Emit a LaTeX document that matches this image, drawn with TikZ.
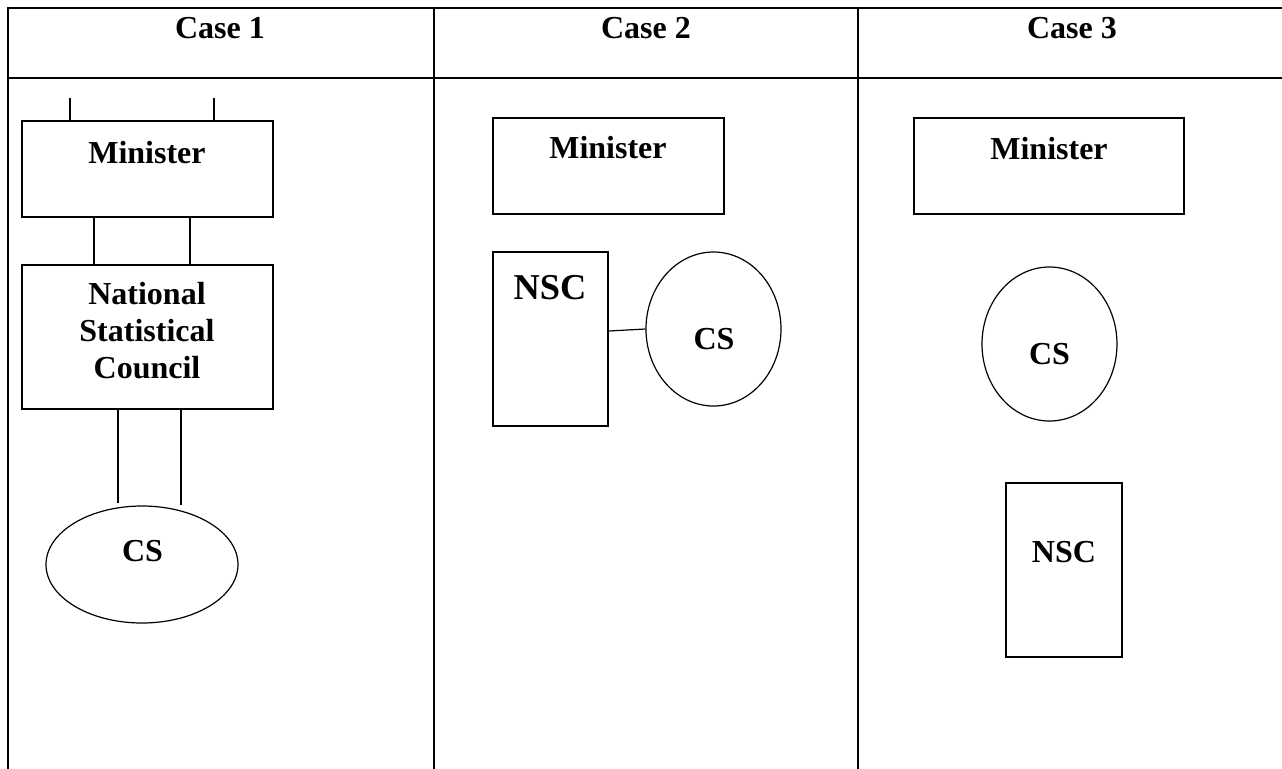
\documentclass[tikz,border=0pt]{standalone}
\usepackage{fontspec}
\setmainfont{Liberation Serif}
\usetikzlibrary{shapes.geometric}
\begin{document}
\begin{tikzpicture}[x=0.5pt,y=-0.5pt,
  grid/.style={line width=1.1pt,line cap=rect},
  thin line/.style={line width=0.6pt},
  box/.style={draw,thin line,rectangle,inner sep=0pt},
  oval/.style={draw,thin line,ellipse,inner sep=0pt},
  lbl/.style={font=\fontsize{16}{18.5}\selectfont\bfseries,anchor=base,inner sep=0pt},
  biglbl/.style={font=\fontsize{18.2}{20}\selectfont\bfseries,anchor=base,inner sep=0pt},
  link/.style={thin line}]
\useasboundingbox (0,0) rectangle (1282,768);
\fill[white] (0,0) rectangle (1282,768);

% table frame
\draw[grid] (8,768) -- (8,8) -- (1282,8);
\draw[grid] (8,78) -- (1282,78);
\draw[grid] (434,8) -- (434,768);
\draw[grid] (858,8) -- (858,768);

% column headings
\node[lbl] (h1) at (220,38) {Case 1};
\node[lbl] (h2) at (646,38) {Case 2};
\node[lbl] (h3) at (1072,38) {Case 3};

% ---------- Case 1 ----------
\node[box,minimum width=125.5pt,minimum height=48pt] (m1) at (147.5,169) {};
\node[lbl] (m1t) at (147,163) {Minister};
\node[box,minimum width=125.5pt,minimum height=72pt] (n1) at (147.5,337) {};
\node[lbl,anchor=center,align=center] (n1t) at (147,331) {National\\Statistical\\Council};
\node[oval,minimum width=96pt,minimum height=58.5pt] (c1) at (142,564.5) {};
\node[lbl] (c1t) at (142.5,561) {CS};

\coordinate (s1a) at ([xshift=-38.75pt,yshift=11pt]m1.north);
\coordinate (s1b) at ([xshift=33.25pt,yshift=11pt]m1.north);
\draw[link] (s1a) -- (s1a |- m1.north);
\draw[link] (s1b) -- (s1b |- m1.north);

\draw[link] ([xshift=-26.75pt]m1.south) -- ([xshift=-26.75pt]m1.south |- n1.north);
\draw[link] ([xshift=21.25pt]m1.south) -- ([xshift=21.25pt]m1.south |- n1.north);

\draw[link] ([xshift=-14.75pt]n1.south) -- ([xshift=-14.75pt,yshift=1pt]n1.south |- c1.north);
\draw[link] ([xshift=16.75pt]n1.south) -- ([xshift=16.75pt]n1.south |- c1.north);

% ---------- Case 2 ----------
\node[box,minimum width=115.5pt,minimum height=48pt] (m2) at (608.5,166) {};
\node[lbl] (m2t) at (608,158) {Minister};
\node[box,minimum width=57.5pt,minimum height=87pt] (n2) at (550.5,339) {};
\node[biglbl] (n2t) at (550,299) {NSC};
\node[oval,minimum width=67.5pt,minimum height=77pt] (c2) at (713.5,329) {};
\node[lbl] (c2t) at (714,349) {CS};
\draw[link] ([yshift=-1pt]n2.east |- c2.west) -- (c2.west);

% ---------- Case 3 ----------
\node[box,minimum width=135pt,minimum height=48pt] (m3) at (1049,166) {};
\node[lbl] (m3t) at (1049,159) {Minister};
\node[oval,minimum width=67.5pt,minimum height=77pt] (c3) at (1049.5,344) {};
\node[lbl] (c3t) at (1049.5,364) {CS};
\node[box,minimum width=58pt,minimum height=87pt] (n3) at (1064,570) {};
\node[lbl] (n3t) at (1064,562) {NSC};
\end{tikzpicture}
\end{document}
